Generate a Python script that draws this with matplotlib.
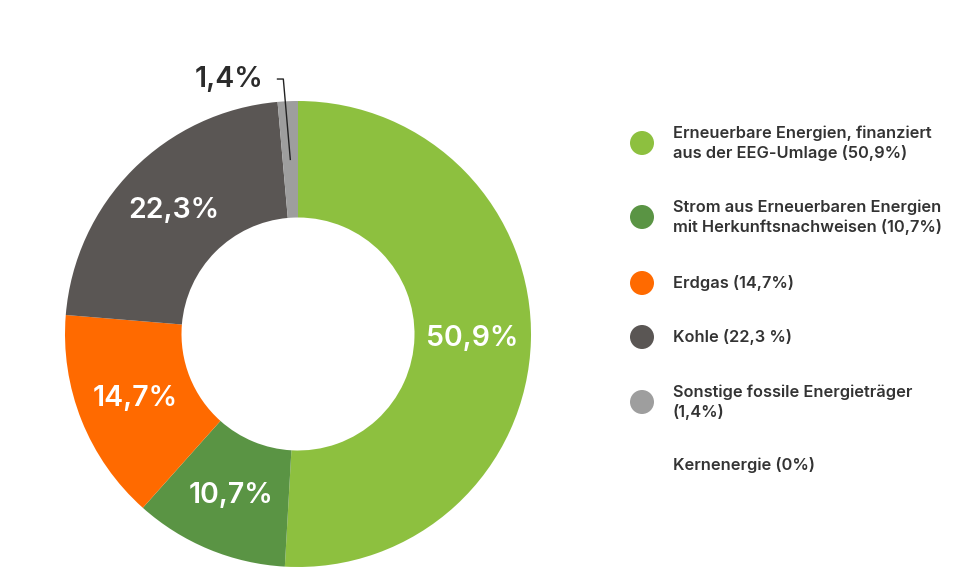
import matplotlib
matplotlib.use("Agg")
import matplotlib.pyplot as plt
from matplotlib.patches import Ellipse
import numpy as np

plt.rcParams['font.family'] = ['Inter', 'DejaVu Sans']

categories = [
    "Erneuerbare Energien, finanziert\naus der EEG-Umlage (50,9%)",
    "Strom aus Erneuerbaren Energien\nmit Herkunftsnachweisen (10,7%)",
    "Erdgas (14,7%)",
    "Kohle (22,3 %)",
    "Sonstige fossile Energieträger\n(1,4%)",
    "Kernenergie (0%)",
]
values = [50.9, 10.7, 14.7, 22.3, 1.4, 0.0]
labels = ["50,9%", "10,7%", "14,7%", "22,3%", "1,4%", ""]
colors = ["#8dc03f", "#5a9444", "#ff6a00", "#5a5654", "#9e9e9e", "#ffffff"]

fig = plt.figure(figsize=(9.6, 5.76), dpi=100)
ax = fig.add_axes([65/960, 9/576, 466/960, 466/576])

wedges, _ = ax.pie(values, colors=colors, startangle=90, counterclock=False,
                   radius=1.0, wedgeprops=dict(width=0.5, linewidth=0))
ax.set_xlim(-1, 1)
ax.set_ylim(-1, 1)
ax.set_aspect('equal')
ax.axis('off')

for w, lab, v in zip(wedges, labels, values):
    if v < 5 or not lab:
        continue
    ang = np.deg2rad((w.theta1 + w.theta2) / 2)
    r = 0.75
    ax.text(r*np.cos(ang), r*np.sin(ang), lab, ha='center', va='center',
            color='white', fontsize=20.5, fontweight=600)

# small slice label with leader line
w = wedges[4]
ang = np.deg2rad((w.theta1 + w.theta2) / 2)
x0, y0 = 0.75*np.cos(ang), 0.75*np.sin(ang)
ax.plot([x0, x0 - 0.03, x0 - 0.055], [y0, y0 + 0.345, y0 + 0.345], color='#222222',
        lw=1.0, clip_on=False)
ax.text(x0 - 0.115, y0 + 0.343, labels[4], ha='right', va='center', color='#2b2b2b',
        fontsize=20.5, fontweight=600, clip_on=False)

# legend
ys = [143, 217, 283, 337, 402, 465]
for cat, col, y, v in zip(categories, colors, ys, values):
    yf = 1 - y/576
    if v > 0:
        fig.add_artist(Ellipse((642/960, yf), 24/960, 24/576, transform=fig.transFigure,
                               facecolor=col, edgecolor='none'))
    fig.text(673/960, yf, cat, ha='left', va='center', fontsize=11.8,
             color='#333333', fontweight=600, linespacing=1.3)

fig.savefig("out.png", dpi=100)
